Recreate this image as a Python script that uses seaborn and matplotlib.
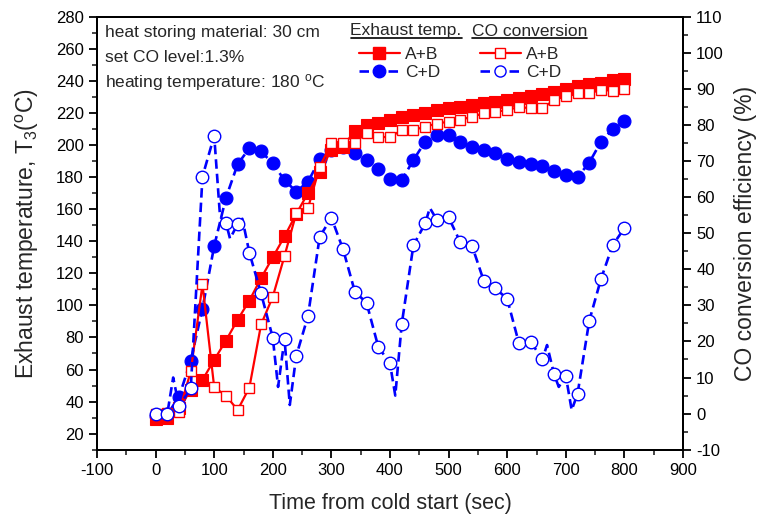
import matplotlib
matplotlib.use("Agg")
import matplotlib.pyplot as plt
from matplotlib.lines import Line2D
from matplotlib.ticker import MultipleLocator
import seaborn as sns

# ---- data -------------------------------------------------------------
time_s = [0, 20, 40, 60, 80, 100, 120, 140, 160, 180, 200, 220, 240, 260,
          280, 300, 320, 340, 360, 380, 400, 420, 440, 460, 480, 500, 520,
          540, 560, 580, 600, 620, 640, 660, 680, 700, 720, 740, 760, 780, 800]

# exhaust temperature T3 (deg C)
exhaust_ab = [29, 30, 36, 47, 53.5, 66, 78, 91, 103, 117, 130, 143, 157, 170,
              183, 197, 199, 209, 212.5, 214, 215.6, 217.7, 218.7, 219.8, 221.8,
              222.9, 223.9, 225, 226, 227, 228, 229, 230.6, 232, 233, 235,
              236.8, 238, 238.8, 240.5, 241]
exhaust_cd = [31, 32, 43, 65.5, 98, 137, 167, 188, 198, 196, 188.5, 178, 171,
              177, 191, 197, 199, 195, 190.7, 185, 179, 178, 190.7, 202, 206,
              206, 202, 198.6, 197, 195, 191, 189.6, 188, 187, 184, 181.3, 180,
              189, 202, 210, 215]

# CO conversion efficiency (%)
conv_ab = [0, 0.3, 0.5, 11.7, 35.8, 7.3, 5, 1, 7.2, 24.7, 32.4, 43.7, 55.5,
           56.9, 68.4, 74.9, 75.1, 75, 77.9, 76.7, 76.6, 78.6, 78.6, 79.5, 80.4,
           80.9, 81.4, 82.3, 83.2, 83.7, 84.1, 85, 84.6, 84.6, 86.9, 88, 88.8,
           88.8, 89.7, 89.5, 89.9]
conv_cd = [0, 0, 2, 7, 65.7, 77, 52.9, 52.5, 44.6, 33.3, 21, 20.7, 16, 27, 49,
           54.3, 45.5, 33.8, 30.7, 18.5, 13.9, 24.8, 46.7, 52.7, 53.7, 54.4,
           47.5, 46.5, 36.8, 34.7, 31.8, 19.5, 19.9, 15.1, 10.9, 10.5, 5.4,
           25.7, 37.3, 46.7, 51.4]

# fitted trace of the C+D conversion curve (with its swings between samples)
conv_cd_trace_t = [0, 20, 30, 40, 60, 80, 100, 110, 120, 127, 140, 148, 160,
                   180, 200, 209, 220, 229, 240, 260, 280, 300, 320, 340, 360,
                   380, 400, 409, 420, 440, 460, 468, 480, 500, 520, 540, 560,
                   580, 600, 620, 640, 660, 668, 680, 688, 700, 710, 720, 740,
                   760, 780, 800]
conv_cd_trace_v = [0, 0, 10, 2, 7, 65.7, 77, 54.6, 52.9, 48.5, 52.5, 54, 44.6,
                   33.3, 21, 7.4, 20.7, 2.4, 16, 27, 49, 54.3, 45.5, 33.8, 30.7,
                   18.5, 13.9, 5, 24.8, 46.7, 52.7, 57, 53.7, 54.4, 47.5, 46.5,
                   36.8, 34.7, 31.8, 19.5, 19.9, 15.1, 19, 10.9, 7.4, 10.5, 1,
                   5.4, 25.7, 37.3, 46.7, 51.4]

notes = ["heat storing material: 30 cm",
         "set CO level:1.3%",
         r"heating temperature: 180 $^{\rm o}$C"]

# ---- style ------------------------------------------------------------
sns.set_style("ticks")
plt.rcParams["font.family"] = ["Liberation Sans", "DejaVu Sans"]
plt.rcParams["mathtext.fontset"] = "custom"
plt.rcParams["mathtext.rm"] = "Liberation Sans"
plt.rcParams["mathtext.it"] = "Liberation Sans:italic"
plt.rcParams["mathtext.bf"] = "Liberation Sans:bold"
plt.rcParams["axes.unicode_minus"] = False

RED = "#ff0000"
BLUE = "#0000ff"
DASH = (0, (3.6, 1.9))
LW_DASH = 1.9
FS_TXT = 12.5

W, H = 760, 521
fig = plt.figure(figsize=(W / 100, H / 100), dpi=100)
ax = fig.add_axes([97 / W, 1 - 449.7 / H, (683 - 97) / W, (449.7 - 16.7) / H])
ax2 = ax.twinx()

# exhaust temperatures (left axis)
sns.lineplot(x=time_s, y=exhaust_cd, ax=ax, color=BLUE, linestyle=DASH,
             linewidth=LW_DASH, marker="o", markersize=9.3, markerfacecolor=BLUE,
             markeredgecolor=BLUE, markeredgewidth=0.8, errorbar=None)
sns.lineplot(x=time_s, y=exhaust_ab, ax=ax, color=RED, linewidth=1.6,
             marker="s", markersize=8.2, markerfacecolor=RED,
             markeredgecolor=RED, markeredgewidth=0.8, errorbar=None)

# CO conversion (right axis)
sns.lineplot(x=time_s, y=conv_ab, ax=ax2, color=RED, linewidth=1.6,
             marker="s", markersize=7.8, markerfacecolor="white",
             markeredgecolor=RED, markeredgewidth=1.0, errorbar=None)
sns.lineplot(x=conv_cd_trace_t, y=conv_cd_trace_v, ax=ax2, color=BLUE,
             linestyle=DASH, linewidth=LW_DASH, errorbar=None)
sns.lineplot(x=time_s, y=conv_cd, ax=ax2, color=BLUE, linestyle="none",
             marker="o", markersize=9, markerfacecolor="white",
             markeredgecolor=BLUE, markeredgewidth=1.0, errorbar=None)

# ---- axes -------------------------------------------------------------
ax.set_xlim(-100, 900)
ax.set_ylim(10, 280)
ax2.set_ylim(-10, 110)
ax.xaxis.set_major_locator(MultipleLocator(100))
ax.xaxis.set_minor_locator(MultipleLocator(50))
ax.set_yticks(list(range(20, 281, 20)))
ax.yaxis.set_minor_locator(MultipleLocator(10))
ax2.set_yticks(list(range(-10, 111, 10)))
ax2.yaxis.set_minor_locator(MultipleLocator(5))

for a in (ax, ax2):
    for s in a.spines.values():
        s.set_visible(True)
        s.set_linewidth(1.4)
        s.set_color("black")
ax.tick_params(axis="both", which="major", direction="out", length=6,
               width=1.3, labelsize=12, colors="black", top=False, right=False)
ax.tick_params(axis="both", which="minor", direction="out", length=3.5,
               width=1.2, top=False, right=False)
ax2.tick_params(axis="y", which="major", direction="out", length=6,
                width=1.3, labelsize=12, colors="black")
ax2.tick_params(axis="y", which="minor", direction="out", length=3.5, width=1.2)

ax.set_xlabel("Time from cold start (sec)", fontsize=15.5, labelpad=11)
ax.set_ylabel(r"Exhaust temperature, T$_3$($^{\rm o}$C)", fontsize=16.5,
              labelpad=11)
ax2.set_ylabel("CO conversion efficiency (%)", fontsize=16.5, labelpad=7)

# ---- notes ------------------------------------------------------------
for i, line in enumerate(notes):
    fig.text(104.6 / W, 1 - (37 + 25 * i) / H, line, fontsize=FS_TXT,
             va="baseline", ha="left")

# ---- legends ----------------------------------------------------------
h_ab_t = Line2D([], [], color=RED, lw=1.6, marker="s", ms=8.2, mfc=RED, mec=RED)
h_cd_t = Line2D([], [], color=BLUE, lw=LW_DASH, ls=DASH, marker="o", ms=9,
                mfc=BLUE, mec=BLUE)
h_ab_c = Line2D([], [], color=RED, lw=1.6, marker="s", ms=7.8, mfc="white",
                mec=RED, mew=1.0)
h_cd_c = Line2D([], [], color=BLUE, lw=LW_DASH, ls=DASH, marker="o", ms=8,
                mfc="white", mec=BLUE, mew=1.0)

leg_kw = dict(loc="upper left", bbox_transform=fig.transFigure, frameon=False,
              borderpad=0, borderaxespad=0, handlelength=2.35,
              handletextpad=0.3, labelspacing=0.2, fontsize=FS_TXT)
leg1 = ax2.legend([h_ab_t, h_cd_t], ["A+B", "C+D"],
                  bbox_to_anchor=(359 / W, 1 - 46.5 / H), **leg_kw)
ax2.add_artist(leg1)
leg2 = ax2.legend([h_ab_c, h_cd_c], ["A+B", "C+D"],
                  bbox_to_anchor=(480 / W, 1 - 46.5 / H), **leg_kw)

titles = [fig.text(350.5 / W, 1 - 35.5 / H, "Exhaust temp.", fontsize=FS_TXT,
                   va="baseline", ha="left"),
          fig.text(472 / W, 1 - 35.5 / H, "CO conversion", fontsize=FS_TXT,
                   va="baseline", ha="left")]

fig.canvas.draw()
renderer = fig.canvas.get_renderer()
for t in titles:
    bb = t.get_window_extent(renderer)
    y_u = 1 - 38.5 / H
    fig.add_artist(Line2D([bb.x0 / W, bb.x1 / W], [y_u, y_u],
                          transform=fig.transFigure, color="black", lw=1.2))

fig.savefig("out.png", dpi=100)
